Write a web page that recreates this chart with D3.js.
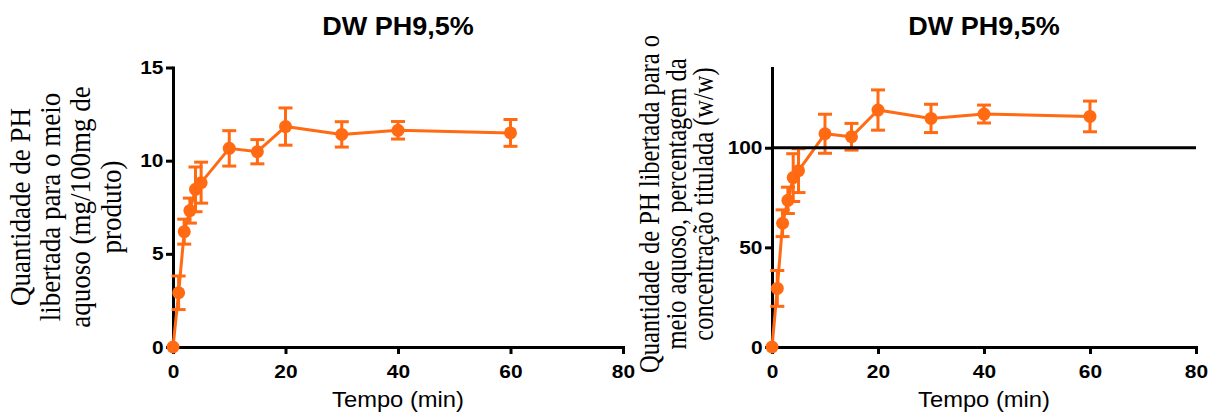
<!DOCTYPE html>
<html>
<head>
<meta charset="utf-8">
<script src="https://cdn.jsdelivr.net/npm/d3@7/dist/d3.min.js"></script>
<style>
  html, body { margin: 0; padding: 0; background: #fff; }
  svg { display: block; }
</style>
</head>
<body>
<svg id="chart" width="1210" height="412"></svg>
<script>
// ---- data ----
const times = [0, 1, 2, 3, 4, 5, 10, 15, 20, 30, 40, 60];
const mgMean = [0, 2.91, 6.19, 7.32, 8.46, 8.82, 10.66, 10.48, 11.83, 11.41, 11.63, 11.49];
const mgErr  = [0, 0.90, 0.67, 0.67, 1.20, 1.10, 0.95, 0.65, 1.00, 0.68, 0.47, 0.72];
const pctMean = [0, 29.4, 62.1, 73.6, 85.0, 88.5, 107.0, 105.5, 118.9, 114.7, 116.9, 115.7];
const pctErr  = [0, 9.0, 6.7, 6.6, 12.0, 11.0, 9.8, 6.7, 10.1, 7.1, 4.5, 7.7];
const xTicks = [0, 20, 40, 60, 80];
const mgTicks = [0, 5, 10, 15];
const pctTicks = [0, 50, 100];
const titleText = "DW PH9,5%";
const xLabel = "Tempo (min)";
const mgLabel = ["Quantidade de PH", "libertada para o meio", "aquoso (mg/100mg de", "produto)"];
const pctLabel = ["Quantidade de PH libertada para o", "meio aquoso, percentagem da", "concentração titulada (w/w)"];
const refLine = 100;

const ORANGE = "#ff6a12";
const svg = d3.select("#chart");
const SANS = "'Liberation Sans', Arial, sans-serif";
const SERIF = "'Liberation Serif', 'Times New Roman', serif";

function drawPanel(opts) {
  const x = d3.scaleLinear().domain([0, 80]).range([opts.x0, opts.x1]);
  const y = d3.scaleLinear().domain(opts.yDomain).range([opts.yBottom, opts.yTop]);
  const g = svg.append("g");

  // x axis
  const xa = g.append("g")
    .attr("transform", `translate(0,${opts.yBottom})`)
    .call(d3.axisBottom(x).tickValues(xTicks).tickSize(7).tickSizeOuter(0).tickFormat(d3.format("d")));
  // y axis
  const ya = g.append("g")
    .attr("transform", `translate(${opts.x0},0)`)
    .call(d3.axisLeft(y).tickValues(opts.yTicks).tickSize(7).tickSizeOuter(0).tickFormat(d3.format("d")));

  [xa, ya].forEach(a => {
    a.select(".domain").attr("stroke", "#000").attr("stroke-width", 3).attr("stroke-linecap", "square");
    a.selectAll(".tick line").attr("stroke", "#000").attr("stroke-width", 3);
    a.selectAll(".tick text")
      .attr("fill", "#000")
      .style("font-family", SANS)
      .style("font-weight", "bold")
      .style("font-size", "19px");
  });
  xa.selectAll(".tick text").attr("y", 17.5).attr("transform", "scale(1.1,1)");
  ya.selectAll(".tick text").attr("x", -9.5)
    .attr("transform", "translate(-9.5,0) scale(1.1,1) translate(9.5,0)");

  // data line
  const line = d3.line().x(d => x(d.t)).y(d => y(d.m));
  const pts = times.map((t, i) => ({ t, m: opts.mean[i], e: opts.err[i] }));
  const dg = g.append("g");
  dg.append("path").datum(pts)
    .attr("d", line).attr("fill", "none")
    .attr("stroke", ORANGE).attr("stroke-width", 3).attr("stroke-linejoin", "round");
  const eb = dg.selectAll(".eb").data(pts.filter(d => d.e > 0)).join("g");
  eb.append("line")
    .attr("x1", d => x(d.t)).attr("x2", d => x(d.t))
    .attr("y1", d => y(d.m - d.e)).attr("y2", d => y(d.m + d.e))
    .attr("stroke", ORANGE).attr("stroke-width", 3);
  eb.append("line")
    .attr("x1", d => x(d.t) - 7).attr("x2", d => x(d.t) + 7)
    .attr("y1", d => y(d.m + d.e)).attr("y2", d => y(d.m + d.e))
    .attr("stroke", ORANGE).attr("stroke-width", 3);
  eb.append("line")
    .attr("x1", d => x(d.t) - 7).attr("x2", d => x(d.t) + 7)
    .attr("y1", d => y(d.m - d.e)).attr("y2", d => y(d.m - d.e))
    .attr("stroke", ORANGE).attr("stroke-width", 3);
  dg.selectAll("circle").data(pts).join("circle")
    .attr("cx", d => x(d.t)).attr("cy", d => y(d.m)).attr("r", 6.5)
    .attr("fill", ORANGE);

  if (opts.ref !== undefined) {
    g.append("line")
      .attr("x1", opts.x0).attr("x2", opts.x1)
      .attr("y1", y(opts.ref)).attr("y2", y(opts.ref))
      .attr("stroke", "#000").attr("stroke-width", 3);
  }

  const cx = (opts.x0 + opts.x1) / 2;
  // title
  g.append("text")
    .attr("transform", `translate(${cx},35) scale(1.08,1)`)
    .attr("text-anchor", "middle")
    .style("font-family", SANS).style("font-weight", "bold").style("font-size", "25px")
    .text(titleText);
  // x label
  g.append("text")
    .attr("transform", `translate(${cx},407) scale(1.08,1)`)
    .attr("text-anchor", "middle")
    .style("font-family", SANS).style("font-size", "22px")
    .text(xLabel);
  // y label
  const yl = g.append("g")
    .attr("transform", `translate(${opts.labX},${opts.labY}) scale(${opts.labSx},1) rotate(-90)`);
  yl.selectAll("text").data(opts.label).join("text")
    .attr("x", 0).attr("y", (d, i) => i * opts.labStep)
    .attr("text-anchor", "middle")
    .style("font-family", SERIF).style("font-size", opts.labSize + "px")
    .text(d => d);
}

drawPanel({
  x0: 173, x1: 623, yBottom: 347, yTop: 67.5,
  yDomain: [0, 15], yTicks: mgTicks,
  mean: mgMean, err: mgErr,
  label: mgLabel, labX: 30, labY: 207, labStep: 27.2, labSize: 27, labSx: 1.11
});
drawPanel({
  x0: 772, x1: 1196, yBottom: 347, yTop: 68,
  yDomain: [0, 140], yTicks: pctTicks,
  mean: pctMean, err: pctErr, ref: refLine,
  label: pctLabel, labX: 659, labY: 204, labStep: 22.2, labSize: 24.5, labSx: 1.22
});
</script>
</body>
</html>
